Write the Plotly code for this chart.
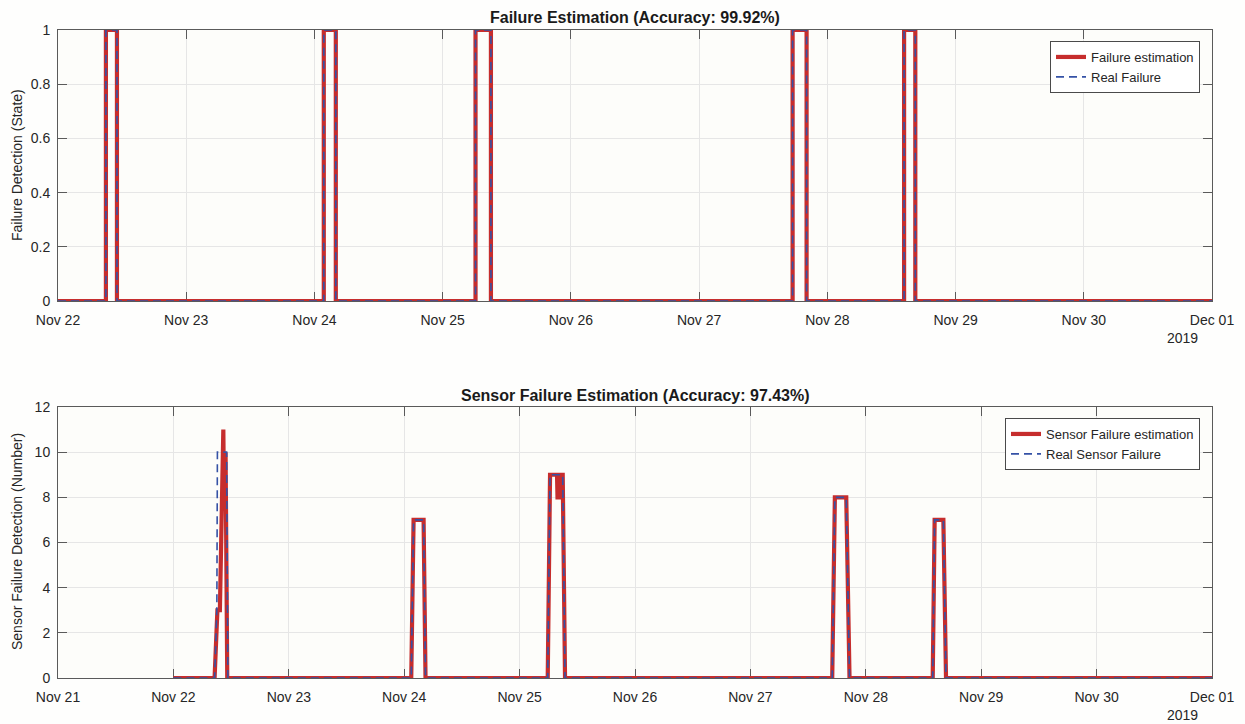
import plotly.graph_objects as go

# ---------------- data ----------------
top_times = ["2019-11-22 00:00", "2019-11-22 08:58", "2019-11-22 11:02",
             "2019-11-24 01:45", "2019-11-24 04:00",
             "2019-11-25 06:09", "2019-11-25 09:02",
             "2019-11-27 17:30", "2019-11-27 20:07",
             "2019-11-28 14:22", "2019-11-28 16:28",
             "2019-12-01 00:00"]
top_estimation = [0, 1, 0, 1, 0, 1, 0, 1, 0, 1, 0, 0]
top_real = [0, 1, 0, 1, 0, 1, 0, 1, 0, 1, 0, 0]

bot_est_times = ["2019-11-22 00:00", "2019-11-22 08:34", "2019-11-22 09:09", "2019-11-22 09:40",
                 "2019-11-22 10:23", "2019-11-22 10:31", "2019-11-22 10:51", "2019-11-22 11:12",
                 "2019-11-24 01:28", "2019-11-24 01:57", "2019-11-24 04:02", "2019-11-24 04:26",
                 "2019-11-25 05:51", "2019-11-25 06:20", "2019-11-25 07:47", "2019-11-25 07:53",
                 "2019-11-25 08:12", "2019-11-25 08:24", "2019-11-25 08:58", "2019-11-25 09:27",
                 "2019-11-27 17:01", "2019-11-27 17:34", "2019-11-27 19:56", "2019-11-27 20:37",
                 "2019-11-28 13:55", "2019-11-28 14:19", "2019-11-28 16:08", "2019-11-28 16:41",
                 "2019-12-01 00:00"]
bot_est_vals = [0, 0, 3, 3, 11, 8, 10, 0,
                0, 7, 7, 0,
                0, 9, 9, 8, 8, 9, 9, 0,
                0, 8, 8, 0,
                0, 7, 7, 0,
                0]

bot_real_times = ["2019-11-22 00:00", "2019-11-22 08:34", "2019-11-22 09:02", "2019-11-22 09:09",
                  "2019-11-22 11:04", "2019-11-22 11:20",
                  "2019-11-24 01:28", "2019-11-24 01:57", "2019-11-24 04:02", "2019-11-24 04:26",
                  "2019-11-25 05:51", "2019-11-25 06:20", "2019-11-25 08:58", "2019-11-25 09:27",
                  "2019-11-27 17:01", "2019-11-27 17:34", "2019-11-27 19:56", "2019-11-27 20:37",
                  "2019-11-28 13:55", "2019-11-28 14:19", "2019-11-28 16:08", "2019-11-28 16:41",
                  "2019-12-01 00:00"]
bot_real_vals = [0, 0, 3, 10, 10, 0,
                 0, 7, 7, 0,
                 0, 9, 9, 0,
                 0, 8, 8, 0,
                 0, 7, 7, 0,
                 0]

top_title = "Failure Estimation (Accuracy: 99.92%)"
bot_title = "Sensor Failure Estimation (Accuracy: 97.43%)"
top_ylabel = "Failure Detection (State)"
bot_ylabel = "Sensor Failure Detection (Number)"
year_label = "2019"

# ---------------- style ----------------
W, H = 1245, 724
RED = "#c62d2d"
BLUE = "#3552a6"
FONT = "Liberation Sans, Arial, Helvetica, sans-serif"
AXC = "#5a5a5a"
TXT = "#262626"
GRID = "#e6e6e6"
PLOTBG = "#fdfdfa"

def px_x(p):
    return p / W

def px_y(p):
    return 1 - p / H

fig = go.Figure()

fig.add_trace(go.Scatter(x=top_times, y=top_estimation, mode="lines", line_shape="hv",
                         line=dict(color=RED, width=4.2), name="Failure estimation",
                         xaxis="x", yaxis="y", legend="legend"))
fig.add_trace(go.Scatter(x=top_times, y=top_real, mode="lines", line_shape="hv",
                         line=dict(color=BLUE, width=1.6, dash="8px,5px"), name="Real Failure",
                         xaxis="x", yaxis="y", legend="legend"))
fig.add_trace(go.Scatter(x=bot_est_times, y=bot_est_vals, mode="lines",
                         line=dict(color=RED, width=4.2), name="Sensor Failure estimation",
                         xaxis="x2", yaxis="y2", legend="legend2"))
fig.add_trace(go.Scatter(x=bot_real_times, y=bot_real_vals, mode="lines",
                         line=dict(color=BLUE, width=1.6, dash="8px,5px"), name="Real Sensor Failure",
                         xaxis="x2", yaxis="y2", legend="legend2"))

common_ax = dict(showline=True, linecolor=AXC, linewidth=1, mirror="ticks",
                 ticks="inside", ticklen=9, tickcolor=AXC, tickwidth=1,
                 showgrid=True, gridcolor=GRID, gridwidth=1, zeroline=False,
                 automargin=False,
                 tickfont=dict(family=FONT, size=14, color=TXT), layer="below traces")

xdom = [px_x(58), px_x(1212)]

fig.update_layout(
    width=W, height=H, autosize=False,
    margin=dict(l=0, r=0, t=0, b=0, autoexpand=False),
    paper_bgcolor="#fefefd", plot_bgcolor=PLOTBG,
    font=dict(family=FONT, size=13, color=TXT),
    xaxis=dict(domain=xdom, anchor="y", type="date",
               range=["2019-11-22", "2019-12-01"], dtick=86400000,
               tick0="2019-11-22", tickformat="%b %d", ticklabelstandoff=6, **common_ax),
    yaxis=dict(domain=[px_y(301), px_y(30)], anchor="x", range=[0, 1],
               tickvals=[0, 0.2, 0.4, 0.6, 0.8, 1], ticktext=["0", "0.2", "0.4", "0.6", "0.8", "1"],
               ticklabelstandoff=4, **common_ax),
    xaxis2=dict(domain=xdom, anchor="y2", type="date",
                range=["2019-11-21", "2019-12-01"], dtick=86400000,
                tick0="2019-11-21", tickformat="%b %d", ticklabelstandoff=6, **common_ax),
    yaxis2=dict(domain=[px_y(678), px_y(407)], anchor="x2", range=[0, 12],
                tickvals=[0, 2, 4, 6, 8, 10, 12], ticklabelstandoff=4, **common_ax),
    legend=dict(x=px_x(1200), y=px_y(41), xanchor="right", yanchor="top",
                bgcolor="#ffffff", bordercolor="#4a4a4a", borderwidth=1,
                font=dict(family=FONT, size=13, color=TXT), tracegroupgap=0,
                itemwidth=30),
    legend2=dict(x=px_x(1200), y=px_y(418), xanchor="right", yanchor="top",
                 bgcolor="#ffffff", bordercolor="#4a4a4a", borderwidth=1,
                 font=dict(family=FONT, size=13, color=TXT), tracegroupgap=0,
                 itemwidth=30),
    showlegend=True,
)

anns = [
    dict(text="<b>%s</b>" % top_title, x=px_x(635), y=px_y(17)),
    dict(text="<b>%s</b>" % bot_title, x=px_x(635), y=px_y(395)),
]
for a in anns:
    a.update(xref="paper", yref="paper", xanchor="center", yanchor="middle", showarrow=False,
             font=dict(family=FONT, size=16, color="#1a1a1a"))
    fig.add_annotation(**a)

for txt, yc in [(top_ylabel, 165), (bot_ylabel, 542)]:
    fig.add_annotation(text=txt, x=px_x(17), y=px_y(yc), xref="paper", yref="paper",
                       xanchor="center", yanchor="middle", textangle=-90, showarrow=False,
                       font=dict(family=FONT, size=14, color=TXT))

for yc in [338, 715]:
    fig.add_annotation(text=year_label, x=px_x(1200), y=px_y(yc), xref="paper", yref="paper",
                       xanchor="right", yanchor="middle", showarrow=False,
                       font=dict(family=FONT, size=14, color=TXT))

fig.write_html("out.html")
